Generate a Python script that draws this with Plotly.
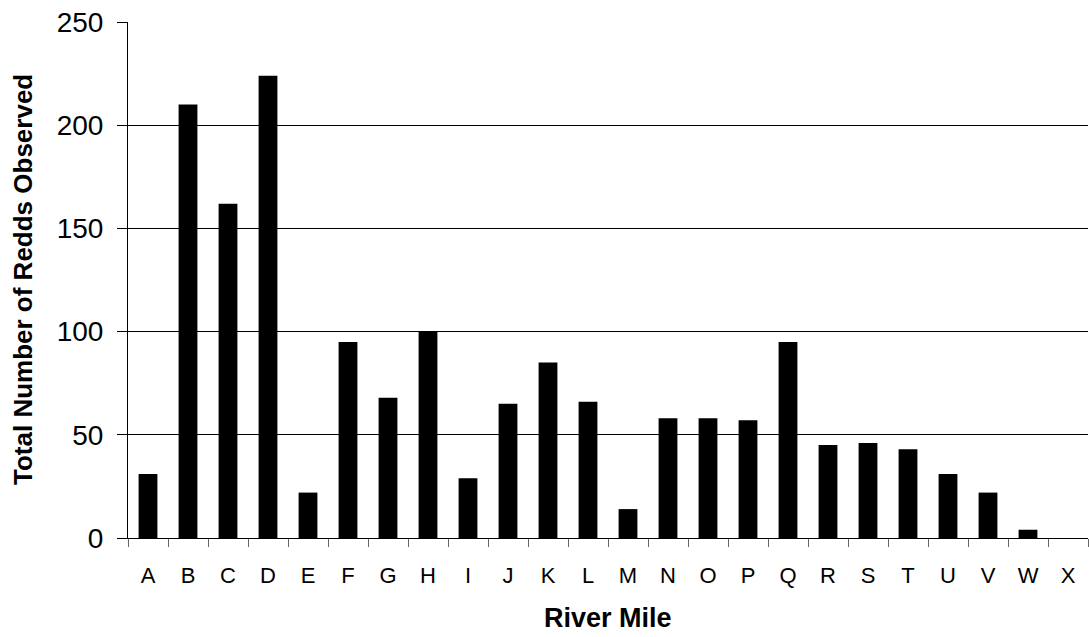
import plotly.graph_objects as go

categories = list("ABCDEFGHIJKLMNOPQRSTUVWX")
redds = [31, 210, 162, 224, 22, 95, 68, 100, 29, 65, 85, 66,
         14, 58, 58, 57, 95, 45, 46, 43, 31, 22, 4, 0]
y_ticks = [0, 50, 100, 150, 200, 250]

FONT = "Arial, 'Liberation Sans', sans-serif"

fig = go.Figure(go.Bar(
    x=categories, y=redds,
    marker=dict(color="black", line=dict(width=0)),
))

fig.update_layout(
    width=1089, height=637,
    margin=dict(l=128, r=1, t=22, b=99, autoexpand=False),
    plot_bgcolor="white", paper_bgcolor="white",
    bargap=0.53, showlegend=False,
    font=dict(family=FONT, color="black", size=22),
)
fig.update_xaxes(
    type="category", tickson="boundaries", automargin=False,
    ticks="outside", ticklen=8, tickwidth=1, tickcolor="#666",
    showline=True, linecolor="black", linewidth=1,
    showgrid=False, tickfont=dict(size=22), ticklabelstandoff=18,
)
fig.update_yaxes(
    range=[0, 250], tickvals=y_ticks, automargin=False,
    ticks="outside", ticklen=10, tickwidth=1, tickcolor="black",
    showline=True, linecolor="black", linewidth=1,
    showgrid=True, gridcolor="black", gridwidth=1,
    zeroline=False, tickfont=dict(size=28), ticklabelstandoff=8,
)
fig.add_annotation(text="<b>River Mile</b>", xref="paper", yref="paper",
                   x=0.5, y=0, yshift=-80, showarrow=False,
                   font=dict(size=27), xanchor="center", yanchor="middle")
fig.add_annotation(text="<b>Total Number of Redds Observed</b>", xref="paper", yref="paper",
                   x=0, y=0.5, xshift=-105, textangle=-90, showarrow=False,
                   font=dict(size=26), xanchor="center", yanchor="middle")

fig.write_html("out.html", config={"displayModeBar": False},
               post_script="document.body.style.margin='0';")
